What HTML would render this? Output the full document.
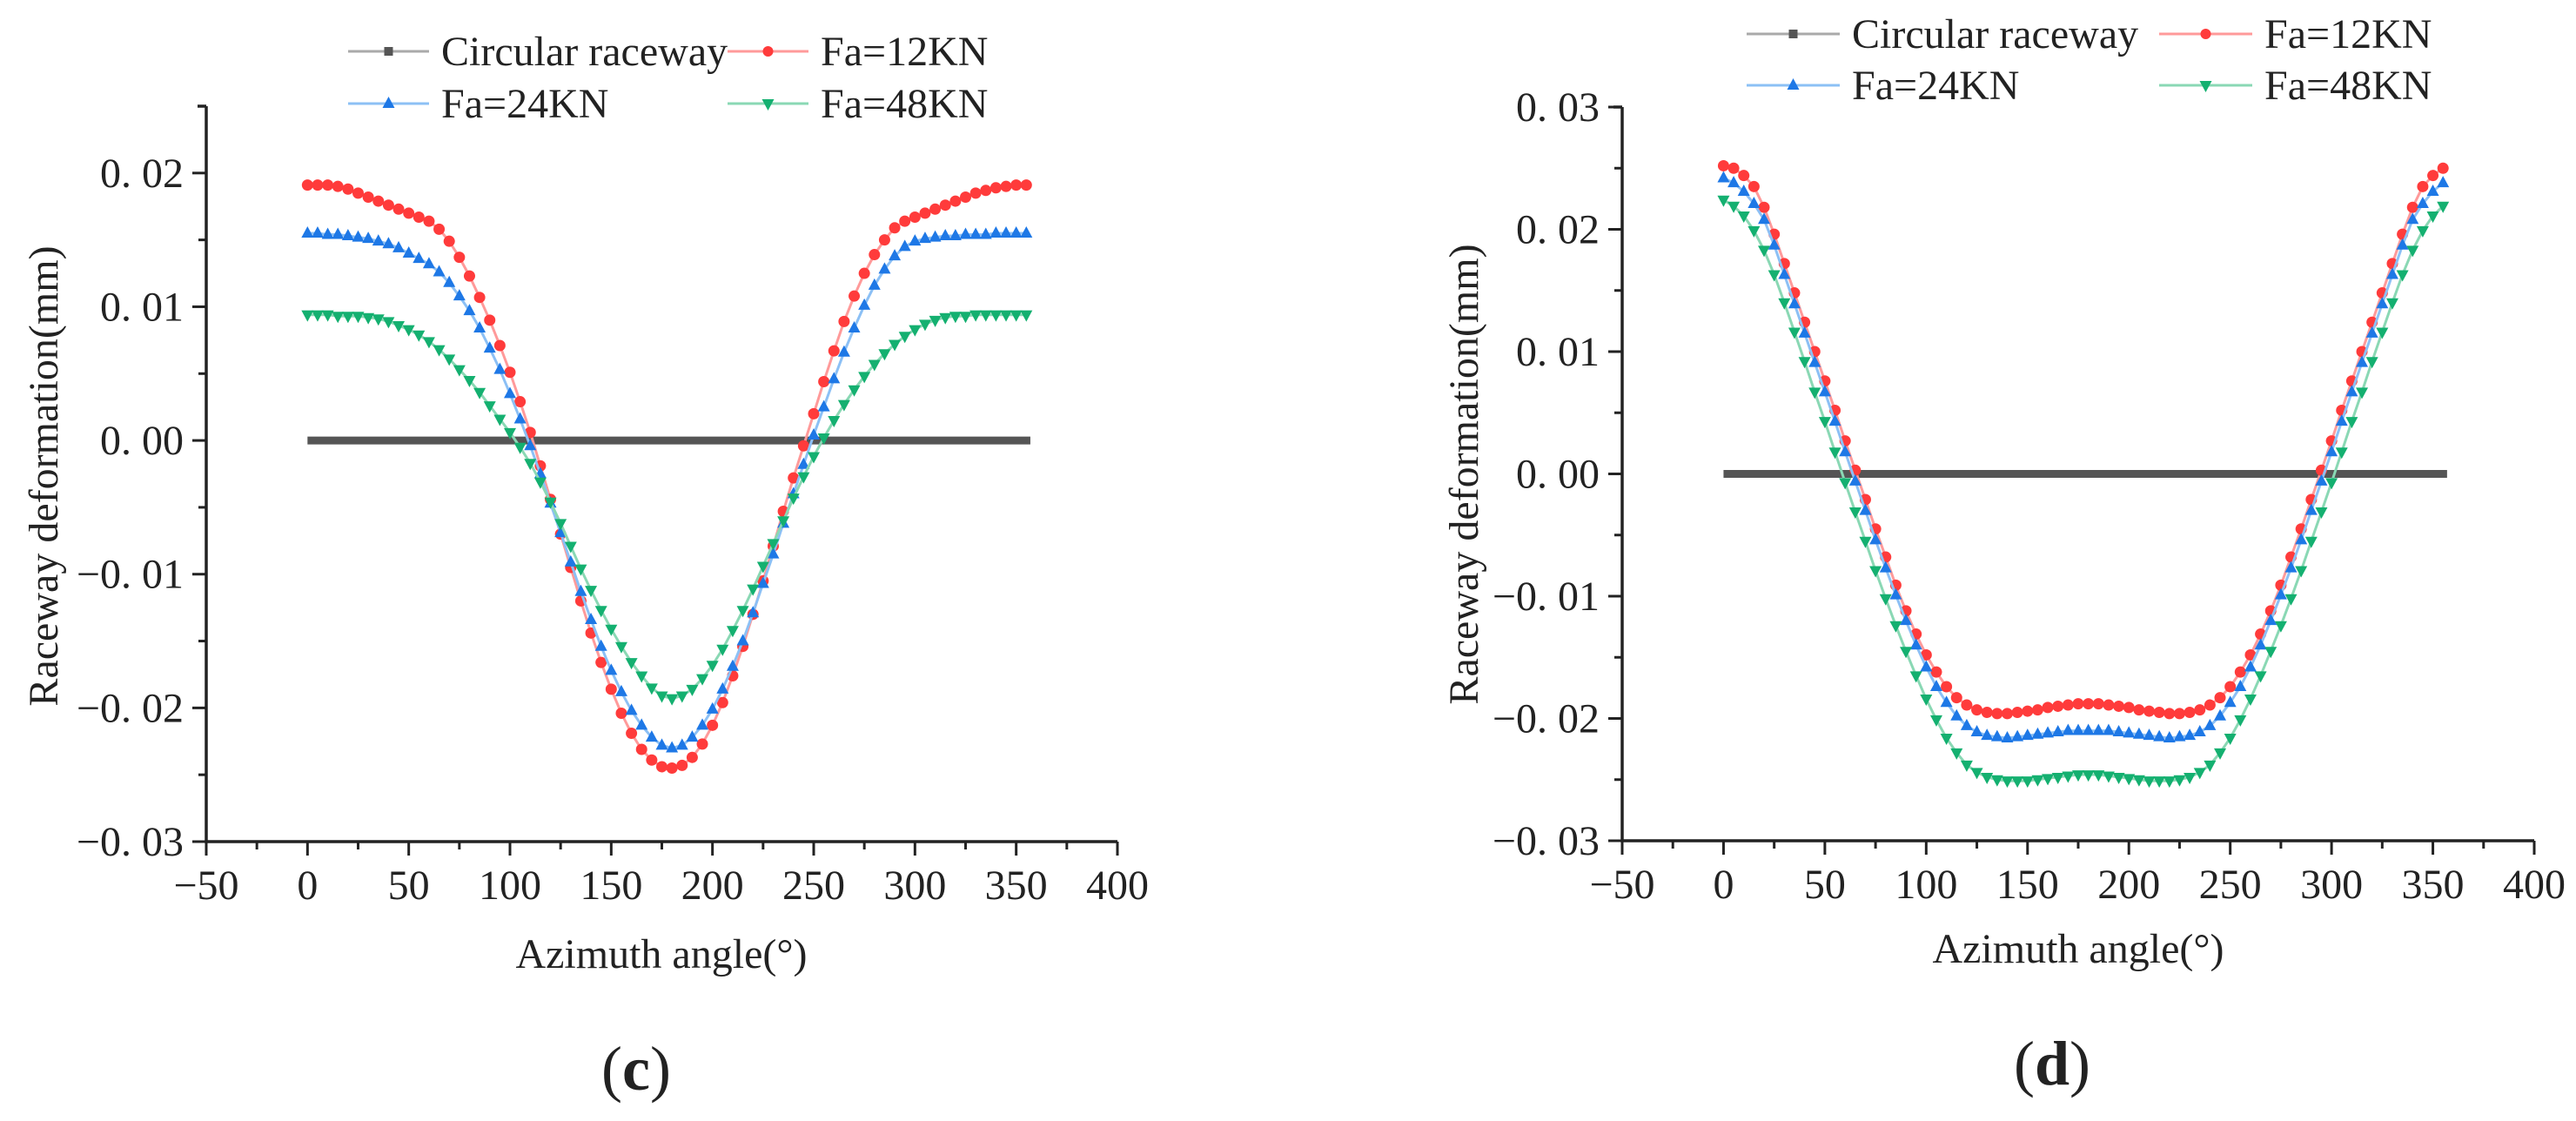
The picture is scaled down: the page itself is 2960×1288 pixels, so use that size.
<!DOCTYPE html>
<html><head><meta charset="utf-8">
<style>
html,body{margin:0;padding:0;background:#fff;}
svg{display:block;}
svg text{font-family:"Liberation Serif","Times New Roman",serif;fill:#222;}
</style></head>
<body>
<svg id="fig" width="2960" height="1288" viewBox="0 0 2960 1288" xmlns="http://www.w3.org/2000/svg" font-family="Liberation Serif, serif"></svg>
<script>
// ---- Data ----
const angles = [];
for (let a = 0; a <= 355; a += 5) angles.push(a);
const xTicks = [-50,0,50,100,150,200,250,300,350,400];

// Chart (c)
const c_ticksY = [0.02,0.01,0,-0.01,-0.02,-0.03];
const c_tickLabelsY = ["0. 02","0. 01","0. 00","\u22120. 01","\u22120. 02","\u22120. 03"];
const c_circular = [0,0];
const c_fa12 = [.0191,.0191,.0191,.0190,.0188,.0185,.0182,.0179,.0176,.0173,.0170,.0167,.0164,
 .0158,.0149,.0137,.0123,.0107,.0090,.0071,.0051,.0029,.0006,-.0019,-.0044,-.0070,-.0095,-.0120,-.0144,-.0166,-.0186,-.0204,-.0219,-.0231,-.0239,-.0244,-.0245,
 -.0243,-.0237,-.0227,-.0213,-.0196,-.0176,-.0154,-.0130,-.0105,-.0079,-.0053,-.0028,-.0004,.0020,.0044,.0067,.0089,.0108,.0125,.0139,.0150,.0159,.0164,.0167,.0170,.0173,.0176,.0179,.0182,.0185,.0187,.0189,.0190,.0191,.0191];
const c_fa24 = [.0155,.0155,.0154,.0154,.0153,.0152,.0151,.0149,.0147,.0144,.0140,.0136,.0132,
 .0126,.0118,.0108,.0097,.0084,.0069,.0053,.0035,.0016,-.0004,-.0025,-.0047,-.0069,-.0091,-.0113,-.0134,-.0154,-.0172,-.0188,-.0202,-.0213,-.0222,-.0228,-.0230,
 -.0228,-.0222,-.0213,-.0201,-.0186,-.0169,-.0150,-.0129,-.0107,-.0085,-.0062,-.0040,-.0018,.0004,.0025,.0046,.0066,.0084,.0101,.0116,.0128,.0138,.0145,.0149,.0151,.0152,.0153,.0153,.0154,.0154,.0154,.0155,.0155,.0155,.0155];
const c_fa48 = [.0094,.0094,.0094,.0093,.0093,.0093,.0092,.0091,.0089,.0086,.0083,.0079,.0074,
 .0068,.0061,.0053,.0045,.0036,.0026,.0016,.0006,-.0005,-.0017,-.0031,-.0046,-.0062,-.0079,-.0096,-.0112,-.0127,-.0141,-.0154,-.0166,-.0176,-.0185,-.0191,-.0193,
 -.0191,-.0186,-.0178,-.0168,-.0156,-.0142,-.0127,-.0111,-.0094,-.0077,-.0060,-.0043,-.0027,-.0012,.0002,.0015,.0027,.0038,.0048,.0057,.0065,.0072,.0078,.0083,.0087,.0090,.0092,.0093,.0093,.0094,.0094,.0094,.0094,.0094,.0094];

// Chart (d)
const d_ticksY = [0.03,0.02,0.01,0,-0.01,-0.02,-0.03];
const d_tickLabelsY = ["0. 03","0. 02","0. 01","0. 00","\u22120. 01","\u22120. 02","\u22120. 03"];
const d_fa12 = [.0252,.0250,.0244,.0235,.0218,.0196,.0172,.0148,.0124,.0100,.0076,.0052,.0027,.0003,-.0021,-.0045,-.0068,-.0091,-.0112,-.0131,-.0148,-.0162,-.0174,-.0183,-.0189,-.0193,-.0195,-.0196,-.0196,-.0195,-.0194,-.0193,-.0191,-.0190,-.0189,-.0188,-.0188,
 -.0188,-.0189,-.0190,-.0191,-.0193,-.0194,-.0195,-.0196,-.0196,-.0195,-.0193,-.0189,-.0183,-.0174,-.0162,-.0148,-.0131,-.0112,-.0091,-.0068,-.0045,-.0021,.0003,.0027,.0052,.0076,.0100,.0124,.0148,.0172,.0196,.0218,.0235,.0244,.0250];
const d_fa24 = [.0242,.0238,.0231,.0221,.0208,.0187,.0163,.0139,.0115,.0091,.0067,.0043,.0018,-.0006,-.0030,-.0054,-.0077,-.0099,-.0120,-.0140,-.0158,-.0174,-.0187,-.0198,-.0206,-.0211,-.0214,-.0215,-.0216,-.0215,-.0214,-.0213,-.0212,-.0211,-.0210,-.0210,-.0210,
 -.0210,-.0210,-.0211,-.0212,-.0213,-.0214,-.0215,-.0216,-.0215,-.0214,-.0211,-.0206,-.0198,-.0187,-.0174,-.0158,-.0140,-.0120,-.0099,-.0077,-.0054,-.0030,-.0006,.0018,.0043,.0067,.0091,.0115,.0139,.0163,.0187,.0208,.0221,.0231,.0238];
const d_fa48 = [.0224,.0219,.0211,.0199,.0183,.0163,.0140,.0116,.0092,.0067,.0043,.0018,-.0007,-.0031,-.0055,-.0079,-.0102,-.0124,-.0145,-.0165,-.0184,-.0201,-.0216,-.0228,-.0238,-.0244,-.0248,-.0250,-.0251,-.0251,-.0251,-.0250,-.0249,-.0248,-.0247,-.0246,-.0246,
 -.0246,-.0247,-.0248,-.0249,-.0250,-.0251,-.0251,-.0251,-.0250,-.0248,-.0244,-.0238,-.0228,-.0216,-.0201,-.0184,-.0165,-.0145,-.0124,-.0102,-.0079,-.0055,-.0031,-.0007,.0018,.0043,.0067,.0092,.0116,.0140,.0163,.0183,.0199,.0211,.0219];

const NS = "http://www.w3.org/2000/svg";
const svg = document.getElementById('fig');
const FONT = '"Liberation Serif", serif';
function mk(tag, attrs, parent){
  const e = document.createElementNS(NS, tag);
  for (const k in attrs) e.setAttribute(k, attrs[k]);
  if (tag === 'text') e.setAttribute('font-family', FONT);
  (parent||svg).appendChild(e);
  return e;
}
const COL = {red:"#ff3b3b", blue:"#1e78e6", green:"#14b070", gray:"#555"};
const LCOL = {red:"#ff9a9a", blue:"#8cc0f5", green:"#8ad8b4", gray:"#aaa"};

function drawChart(cfg){
  const g = mk('g', {});
  
  
  const X = v => cfg.x0 + (v - (-50)) * (cfg.x1 - cfg.x0) / 450;
  const Y = v => cfg.yb + (v - cfg.ymin) * (cfg.yt - cfg.yb) / (cfg.ymax - cfg.ymin);
  const ax = mk('path', {d:`M${cfg.x0},${cfg.yt} H${cfg.x0-10} M${cfg.x0},${cfg.yt} V${cfg.yb} H${cfg.x1}`, stroke:"#222", 'stroke-width':3.5, fill:"none"}, g);
  
  
  xTicks.forEach(t => {
    const x = X(t);
    mk('line', {x1:x, x2:x, y1:cfg.yb, y2:cfg.yb+16, stroke:"#222", 'stroke-width':3}, g);
    const lbl = mk('text', {x:x, y:cfg.yb+66, 'font-size':48, 'text-anchor':'middle'}, g);
    
    
    lbl.textContent = t < 0 ? "\u2212" + Math.abs(t) : String(t);
    if (t < 400) {
      const xm = X(t + 25);
      mk('line', {x1:xm, x2:xm, y1:cfg.yb, y2:cfg.yb+9, stroke:"#222", 'stroke-width':3}, g);
    }
  });
  cfg.ticksY.forEach((t, i) => {
    const y = Y(t);
    mk('line', {x1:cfg.x0-16, x2:cfg.x0, y1:y, y2:y, stroke:"#222", 'stroke-width':3}, g);
    const lbl = mk('text', {x:cfg.x0-26, y:y+16, 'font-size':48, 'text-anchor':'end'}, g);
    
    
    lbl.textContent = cfg.labelsY[i];
    if (t > cfg.ymin) {
      const ym = Y(t - 0.005);
      mk('line', {x1:cfg.x0-9, x2:cfg.x0, y1:ym, y2:ym, stroke:"#222", 'stroke-width':3}, g);
    }
  });
  const xt = mk('text', {x:cfg.xTitleX, y:cfg.xTitleY, 'font-size':48, 'text-anchor':'middle'}, g);
  
  
  xt.textContent = "Azimuth angle(\u00b0)";
  const yt = mk('text', {x:0, y:0, 'font-size':48, 'text-anchor':'middle', transform:`translate(${cfg.yTitleX},${cfg.yTitleY}) rotate(-90)`}, g);
  
  
  yt.textContent = "Raceway deformation(mm)";
  const pl = mk('text', {x:cfg.panelX, y:cfg.panelY, 'font-size':72, 'text-anchor':'middle'}, g);
  
  
  pl.innerHTML = '(<tspan font-weight="bold">' + cfg.panel + '</tspan>)';
  const circ = mk('line', {x1:X(0), x2:X(357), y1:Y(cfg.circ[0]), y2:Y(cfg.circ[1]), stroke:COL.gray, 'stroke-width':9}, g);
  
  
  cfg.series.forEach(s => {
    const sg = mk('g', {}, g);
    
    
    const pts = s.data.map((v, i) => X(angles[i]).toFixed(1) + ',' + Y(v).toFixed(1)).join(' ');
    mk('polyline', {points:pts, fill:'none', stroke:LCOL[s.c], 'stroke-width':3}, sg);
    s.data.forEach((v, i) => {
      const x = X(angles[i]), y = Y(v);
      let m;
      if (s.m === 'circle') m = mk('circle', {cx:x, cy:y, r:6.5, fill:COL[s.c]}, sg);
      else if (s.m === 'up') m = mk('polygon', {points:`${x},${y-8} ${x-7},${y+5} ${x+7},${y+5}`, fill:COL[s.c]}, sg);
      else m = mk('polygon', {points:`${x},${y+8} ${x-7},${y-5} ${x+7},${y-5}`, fill:COL[s.c]}, sg);
      
      
    });
  });
  const lg = mk('g', {}, g);
  
  
  const items = [
    {t:"Circular raceway", c:'gray', m:'sq', col:0, row:0},
    {t:"Fa=12KN", c:'red', m:'circle', col:1, row:0},
    {t:"Fa=24KN", c:'blue', m:'up', col:0, row:1},
    {t:"Fa=48KN", c:'green', m:'down', col:1, row:1}
  ];
  items.forEach(it => {
    const eg = mk('g', {}, lg);
    
    
    const lx = cfg.legCols[it.col], y = cfg.legRows[it.row];
    mk('line', {x1:lx, x2:lx+cfg.legLen, y1:y, y2:y, stroke:LCOL[it.c], 'stroke-width':3}, eg);
    const cx = lx + cfg.legLen/2;
    if (it.m === 'sq') mk('rect', {x:cx-5, y:y-5, width:10, height:10, fill:COL.gray}, eg);
    else if (it.m === 'circle') mk('circle', {cx:cx, cy:y, r:6, fill:COL[it.c]}, eg);
    else if (it.m === 'up') mk('polygon', {points:`${cx},${y-8} ${cx-7},${y+5} ${cx+7},${y+5}`, fill:COL[it.c]}, eg);
    else mk('polygon', {points:`${cx},${y+8} ${cx-7},${y-5} ${cx+7},${y-5}`, fill:COL[it.c]}, eg);
    const tx = mk('text', {x:lx+cfg.legLen+14, y:y+16, 'font-size':48, fill:'#111'}, eg);
    tx.textContent = it.t;
  });
}

drawChart({name:'chart-c', panel:'c', x0:237, x1:1284, yt:122, yb:967, ymin:-0.03, ymax:0.025,
  ticksY:c_ticksY, labelsY:c_tickLabelsY, circ:c_circular,
  xTitleX:760, xTitleY:1112, yTitleX:66, yTitleY:547, panelX:731, panelY:1252,
  legCols:[400,836], legRows:[59,119], legLen:93,
  series:[{name:'series-fa12',data:c_fa12,c:'red',m:'circle'},{name:'series-fa24',data:c_fa24,c:'blue',m:'up'},{name:'series-fa48',data:c_fa48,c:'green',m:'down'}]});

drawChart({name:'chart-d', panel:'d', x0:1864, x1:2912, yt:123, yb:966, ymin:-0.03, ymax:0.03,
  ticksY:d_ticksY, labelsY:d_tickLabelsY, circ:[0,0],
  xTitleX:2388, xTitleY:1106, yTitleX:1698, yTitleY:545, panelX:2358, panelY:1246,
  legCols:[2007,2481], legRows:[39,98], legLen:107,
  series:[{name:'series-fa12',data:d_fa12,c:'red',m:'circle'},{name:'series-fa24',data:d_fa24,c:'blue',m:'up'},{name:'series-fa48',data:d_fa48,c:'green',m:'down'}]});
</script>
</body></html>
